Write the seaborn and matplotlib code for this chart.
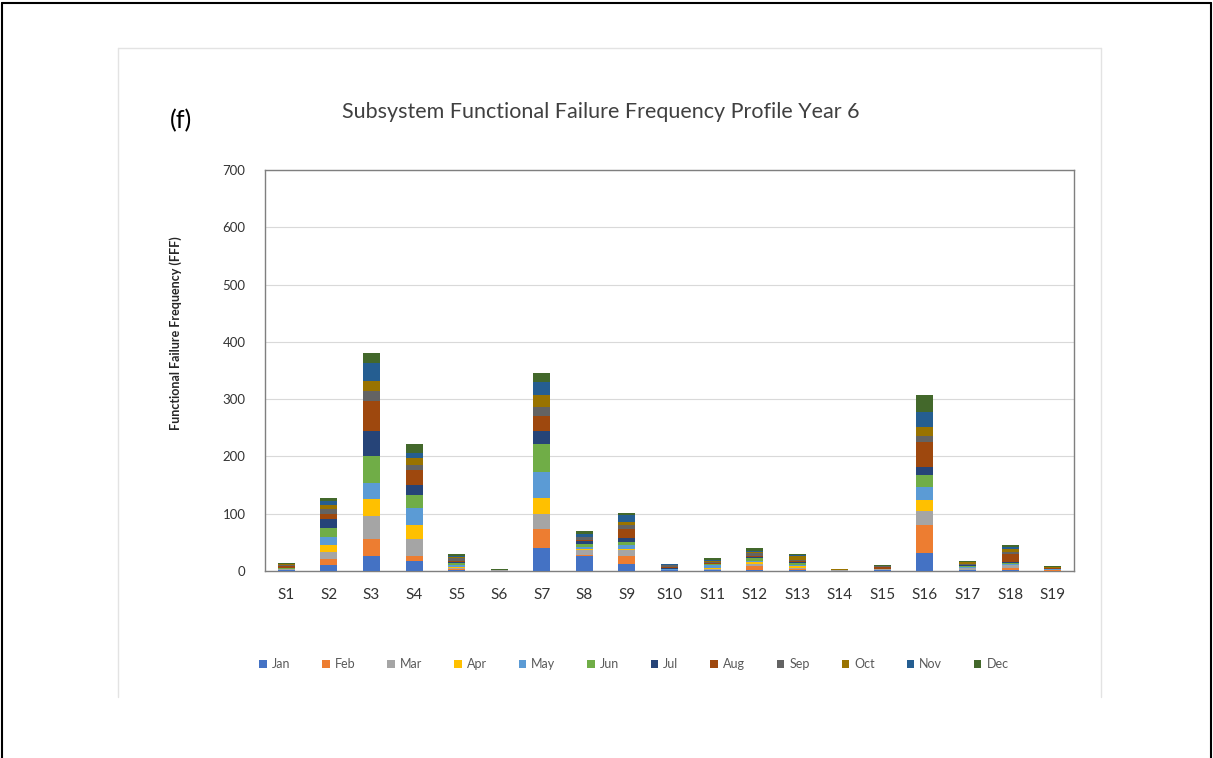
import numpy as np
import pandas as pd
import matplotlib
matplotlib.use("Agg")
import matplotlib.pyplot as plt
from matplotlib.patches import Patch
from matplotlib.lines import Line2D
import seaborn as sns

subsystems = [f"S{i}" for i in range(1, 20)]
months = ["Jan", "Feb", "Mar", "Apr", "May", "Jun",
          "Jul", "Aug", "Sep", "Oct", "Nov", "Dec"]

# Monthly functional failure counts per subsystem (S1..S19)
jan = [1, 10, 26, 17, 2, 0, 41, 26, 12, 1, 1, 2, 1, 0, 1, 32, 1, 2, 0]
feb = [1, 11, 29, 9, 1, 0, 32, 2, 15, 0, 1, 6, 2, 0, 1, 49, 1, 3, 1]
mar = [1, 12, 41, 29, 3, 1, 26, 8, 9, 1, 2, 4, 3, 1, 1, 23, 3, 5, 1]
apr = [0, 12, 29, 26, 1, 0, 29, 2, 3, 0, 1, 4, 2, 1, 0, 20, 1, 1, 0]
may = [1, 15, 29, 29, 3, 0, 44, 4, 6, 1, 5, 2, 2, 0, 0, 23, 1, 1, 1]
jun = [1, 15, 47, 23, 4, 0, 49, 6, 6, 1, 2, 4, 4, 0, 1, 20, 2, 2, 1]
jul = [1, 15, 44, 17, 2, 0, 23, 4, 6, 1, 1, 2, 1, 0, 0, 15, 1, 1, 0]
aug = [3, 9, 52, 26, 2, 1, 26, 2, 17, 2, 1, 3, 2, 0, 3, 44, 1, 14, 1]
sep = [1, 9, 17, 9, 4, 0, 17, 6, 6, 3, 2, 4, 2, 0, 1, 9, 2, 5, 1]
oct_ = [2, 8, 17, 12, 2, 0, 20, 0, 6, 1, 1, 2, 7, 1, 1, 17, 2, 4, 1]
nov = [1, 6, 32, 9, 2, 0, 23, 4, 12, 1, 3, 2, 2, 0, 0, 26, 1, 4, 0]
dec = [1, 5, 17, 15, 4, 1, 15, 6, 4, 1, 2, 5, 2, 1, 1, 29, 1, 4, 1]

colors = ["#4472C4", "#ED7D31", "#A5A5A5", "#FFC000", "#5B9BD5", "#70AD47",
          "#264478", "#9E480E", "#636363", "#997300", "#255E91", "#43682B"]

series = [jan, feb, mar, apr, may, jun, jul, aug, sep, oct_, nov, dec]
df = pd.DataFrame({m: v for m, v in zip(months, series)}, index=subsystems)
cum = df.cumsum(axis=1)

sns.set_theme(style="white")
plt.rcParams["font.family"] = ["Lato", "DejaVu Sans"]

fig = plt.figure(figsize=(12.13, 7.58), dpi=100)
W, H = 1213, 758

# outer frame and chart-area outline
fig.add_artist(Line2D([2 / W, 2 / W], [0, 1 - 3 / H], color="black", lw=1.5))
fig.add_artist(Line2D([1211 / W, 1211 / W], [0, 1 - 3 / H], color="black", lw=1.5))
fig.add_artist(Line2D([2 / W, 1211 / W], [1 - 3 / H, 1 - 3 / H], color="black", lw=1.5))
for xs, ys in [([118, 118], [48, 697]), ([1101, 1101], [48, 697]), ([118, 1101], [48, 48])]:
    fig.add_artist(Line2D([x / W for x in xs], [1 - y / H for y in ys],
                          color="#E3E3E3", lw=1))

ax = fig.add_axes([265 / W, 1 - 571 / H, (1074 - 265) / W, (571 - 170) / H])

# stacked bars: draw cumulative totals from the top month downward
for i in range(len(months) - 1, -1, -1):
    sns.barplot(x=subsystems, y=cum[months[i]].values, color=colors[i],
                width=0.4, linewidth=0, saturation=1, ax=ax, zorder=3)

ax.set_ylim(0, 700)
ax.set_yticks(range(0, 701, 100))
ax.yaxis.grid(True, color="#D9D9D9", lw=0.8, zorder=0)
ax.set_axisbelow(True)
for s in ax.spines.values():
    s.set_visible(True)
    s.set_color("#7F7F7F")
    s.set_linewidth(1.0)
ax.set_xlabel("")
ax.set_ylabel("")
ax.tick_params(axis="y", labelsize=9.5, colors="#333333", length=0, pad=14)
ax.tick_params(axis="x", labelsize=11, colors="#333333", length=0, pad=12)

fig.text(601 / W, 1 - 112 / H, "Subsystem Functional Failure Frequency Profile Year 6",
         ha="center", va="center", fontsize=15.5, color="#404040")
fig.text(181 / W, 1 - 121 / H, "(f)", ha="center", va="center", fontsize=18, color="black")
fig.text(176 / W, 1 - 333 / H, "Functional Failure Frequency (FFF)", rotation=90,
         ha="center", va="center", fontsize=9, fontweight="bold", color="#262626")

handles = [Patch(facecolor=c, edgecolor="none") for c in colors]
fig.legend(handles, months, loc="center", bbox_to_anchor=(634 / W, 1 - 664 / H),
           ncol=12, frameon=False, fontsize=9, handlelength=0.6, handleheight=0.6,
           handletextpad=0.4, columnspacing=2.55, labelcolor="#595959")

fig.savefig("out.png", dpi=100, facecolor="white")
